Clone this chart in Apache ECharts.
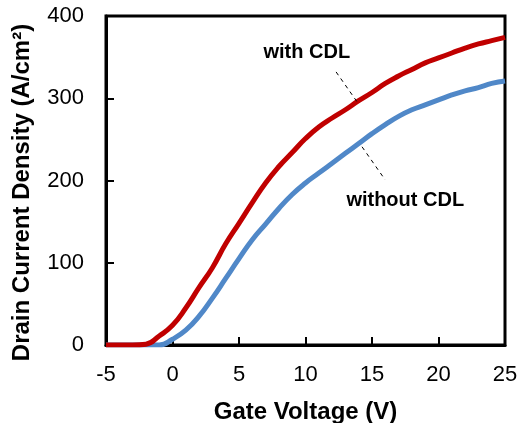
<!DOCTYPE html>
<html>
<head>
<meta charset="utf-8">
<script src="https://cdn.jsdelivr.net/npm/echarts@6/dist/echarts.min.js"></script>
<style>
  html, body { margin: 0; padding: 0; background: #fff; }
  #diagram { width: 519px; height: 423px; }
</style>
</head>
<body>
<div id="diagram"></div>
<script>
// gate voltage (V)
var gateVoltage = [-5, -4, -3, -2, -1, 0, 1, 2, 3, 4, 5, 6, 7, 8, 9, 10,
  11, 12, 13, 14, 15, 16, 17, 18, 19, 20, 21, 22, 23, 24, 25];
// drain current density (A/cm2)
var withCDL = [0, 0, 0, 1, 11, 24, 45, 70, 94, 123, 148, 173, 197, 217, 234, 251,
  265, 276, 286, 297, 307, 318, 327, 335, 343, 349, 355, 361, 366, 370, 374];
var withoutCDL = [0, 0, 0, 0, 0, 7, 18, 35, 57, 81, 105, 128, 147, 166, 183, 197,
  209, 221, 233, 245, 257, 268, 278, 286, 292, 298, 304, 309, 313, 318, 321];
var xTicks = [-5, 0, 5, 10, 15, 20, 25];
var yTicks = [0, 100, 200, 300, 400];

function pairs(xs, ys) {
  return xs.map(function (x, i) { return [x, ys[i]]; });
}

var font = "Arial, 'Liberation Sans', sans-serif";

var myChart = echarts.init(document.getElementById("diagram"));
var option = {
  animation: false,
  grid: {
    left: 106, right: 14, top: 16, bottom: 78,
    outerBoundsMode: "none",
    show: true, borderColor: "#000", borderWidth: 3
  },
  xAxis: {
    type: "value",
    min: xTicks[0], max: xTicks[xTicks.length - 1], interval: 5,
    name: "Gate Voltage (V)",
    nameLocation: "middle", nameGap: 55,
    nameTextStyle: { fontFamily: font, fontSize: 24, fontWeight: "bold", color: "#000" },
    axisLine: { onZero: false, lineStyle: { color: "#000", width: 3 } },
    axisTick: { inside: true, length: 8, lineStyle: { color: "#000", width: 2 } },
    axisLabel: { fontFamily: font, fontSize: 22, color: "#000", margin: 19 },
    splitLine: { show: false }
  },
  yAxis: {
    type: "value",
    min: yTicks[0], max: yTicks[yTicks.length - 1], interval: 100,
    name: "Drain Current Density (A/cm\u00b2)",
    nameLocation: "middle", nameGap: 72,
    nameTruncate: { maxWidth: 1000 },
    nameTextStyle: { fontFamily: font, fontSize: 24, fontWeight: "bold", color: "#000",
      overflow: "none", width: 1000, padding: [0, 24, 0, 0] },
    axisLine: { onZero: false, lineStyle: { color: "#000", width: 3 } },
    axisTick: { inside: true, length: 8, lineStyle: { color: "#000", width: 2 } },
    axisLabel: { fontFamily: font, fontSize: 22, color: "#000", margin: 22 },
    splitLine: { show: false }
  },
  series: [
    {
      name: "without CDL",
      type: "line",
      data: pairs(gateVoltage, withoutCDL),
      smooth: true,
      showSymbol: false,
      lineStyle: { color: "#5088C8", width: 5 },
      markPoint: {
        symbol: "circle", symbolSize: 0,
        label: { show: true, position: "inside", formatter: "without CDL",
          fontFamily: font, fontSize: 20, fontWeight: "bold", color: "#000" },
        data: [{ coord: [17.5, 176] }]
      },
      markLine: {
        symbol: "none", silent: true,
        lineStyle: { type: [4, 4], color: "#000", width: 1 },
        label: { show: false },
        data: [[{ coord: [14.25, 241] }, { coord: [15.98, 201] }]]
      }
    },
    {
      name: "with CDL",
      type: "line",
      data: pairs(gateVoltage, withCDL),
      smooth: true,
      showSymbol: false,
      lineStyle: { color: "#C00000", width: 5 },
      markPoint: {
        symbol: "circle", symbolSize: 0,
        label: { show: true, position: "inside", formatter: "with CDL",
          fontFamily: font, fontSize: 20, fontWeight: "bold", color: "#000" },
        data: [{ coord: [10.1, 356] }]
      },
      markLine: {
        symbol: "none", silent: true,
        lineStyle: { type: [4, 4], color: "#000", width: 1 },
        label: { show: false },
        data: [[{ coord: [12.3, 332] }, { coord: [13.95, 294] }]]
      }
    }
  ]
};
myChart.setOption(option);
</script>
</body>
</html>
